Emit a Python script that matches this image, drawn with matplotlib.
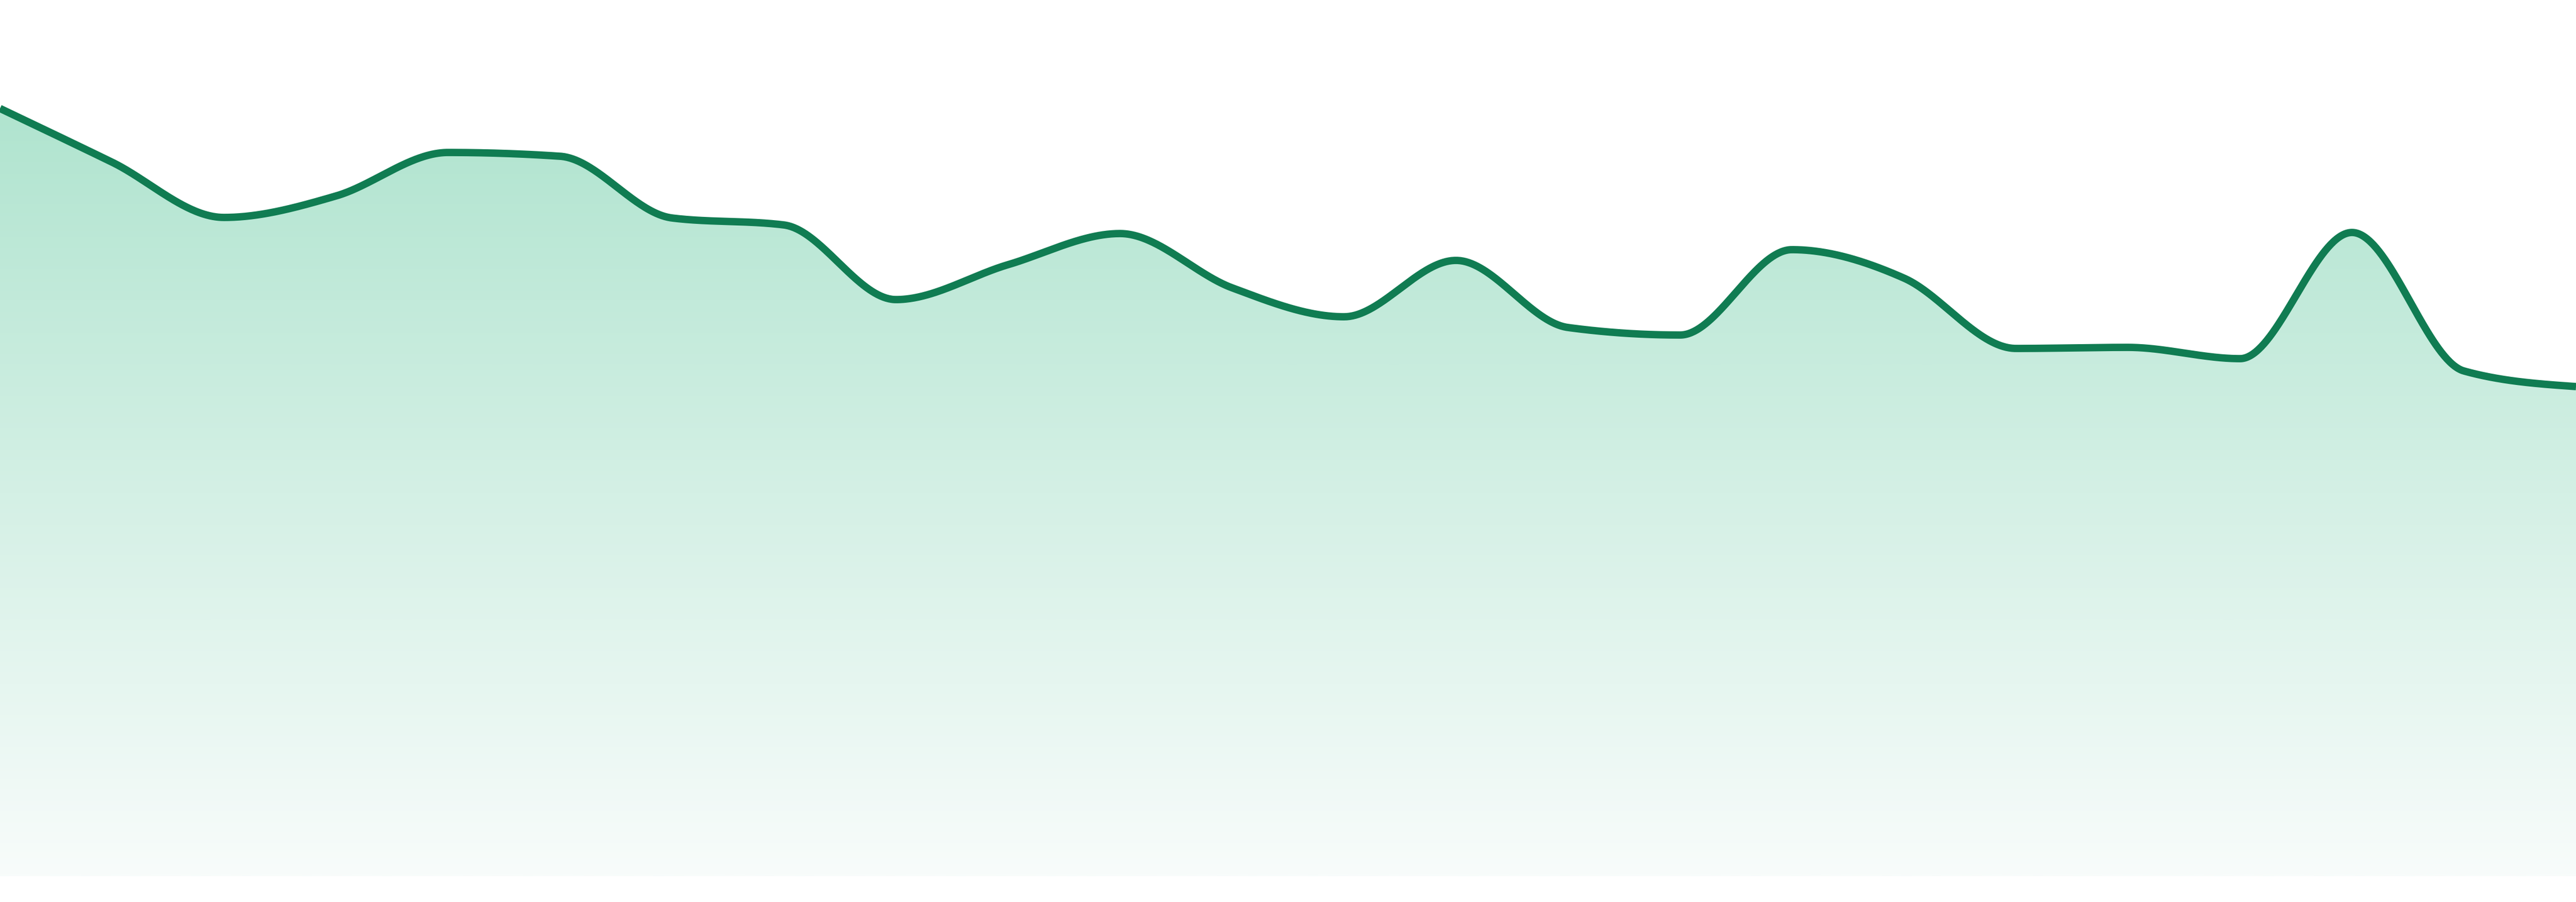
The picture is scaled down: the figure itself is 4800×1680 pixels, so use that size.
import numpy as np
import matplotlib
matplotlib.use("Agg")
import matplotlib.pyplot as plt
from matplotlib.colors import LinearSegmentedColormap
from matplotlib.patches import Polygon

# ---- data ----
values = [143.0, 133.0, 122.7, 126.7, 134.8, 134.1, 122.6, 121.3, 107.4, 113.9,
          119.7, 109.6, 104.2, 114.7, 102.2, 100.8, 116.7, 111.4, 98.3, 98.5,
          96.4, 119.9, 94.1, 91.2]
x_index = list(range(len(values)))

line_color = "#107c52"
fill_top = "#b0e4cf"
fill_bottom = "#f8fcfb"


def monotone_x(xs, ys, n=80):
    xs = np.asarray(xs, float)
    ys = np.asarray(ys, float)
    m = len(xs)
    t = np.zeros(m)
    for i in range(1, m - 1):
        h0 = xs[i] - xs[i - 1]
        h1 = xs[i + 1] - xs[i]
        s0 = (ys[i] - ys[i - 1]) / h0
        s1 = (ys[i + 1] - ys[i]) / h1
        p = (s0 * h1 + s1 * h0) / (h0 + h1)
        t[i] = (np.sign(s0) + np.sign(s1)) * min(abs(s0), abs(s1), 0.5 * abs(p))
    h = xs[1] - xs[0]
    t[0] = (3 * (ys[1] - ys[0]) / h - t[1]) / 2
    h = xs[-1] - xs[-2]
    t[-1] = (3 * (ys[-1] - ys[-2]) / h - t[-2]) / 2
    outx, outy = [], []
    u = np.linspace(0, 1, n)
    for i in range(m - 1):
        dx = (xs[i + 1] - xs[i]) / 3
        P0 = np.array([xs[i], ys[i]])
        P1 = np.array([xs[i] + dx, ys[i] + dx * t[i]])
        P2 = np.array([xs[i + 1] - dx, ys[i + 1] - dx * t[i + 1]])
        P3 = np.array([xs[i + 1], ys[i + 1]])
        uu = u if i == 0 else u[1:]
        b = ((1 - uu) ** 3)[:, None] * P0 + (3 * (1 - uu) ** 2 * uu)[:, None] * P1 \
            + (3 * (1 - uu) * uu ** 2)[:, None] * P2 + (uu ** 3)[:, None] * P3
        outx.extend(b[:, 0])
        outy.extend(b[:, 1])
    return np.array(outx), np.array(outy)


fig = plt.figure(figsize=(16, 5.6), dpi=300, facecolor="white")
ax = fig.add_axes([0, 48 / 1680, 1, 1632 / 1680])
ax.set_xlim(x_index[0], x_index[-1])
ax.set_ylim(0, 163.2)
ax.axis("off")

xd, yd = monotone_x(x_index, values)

# gradient fill under the curve
cmap = LinearSegmentedColormap.from_list("g", [fill_bottom, fill_top])
grad = np.linspace(0, 1, 512).reshape(-1, 1)
im = ax.imshow(grad, extent=[x_index[0], x_index[-1], 0, max(values)],
               origin="lower", cmap=cmap, aspect="auto", zorder=1,
               interpolation="bilinear")
verts = np.vstack([np.column_stack([xd, yd]),
                   [[x_index[-1], 0], [x_index[0], 0]]])
poly = Polygon(verts, closed=True, facecolor="none", edgecolor="none",
               transform=ax.transData)
ax.add_patch(poly)
im.set_clip_path(poly)

ax.plot(xd, yd, color=line_color, lw=3.3, solid_capstyle="butt",
        solid_joinstyle="round", zorder=3)

fig.savefig("out.png", dpi=300, facecolor="white")
